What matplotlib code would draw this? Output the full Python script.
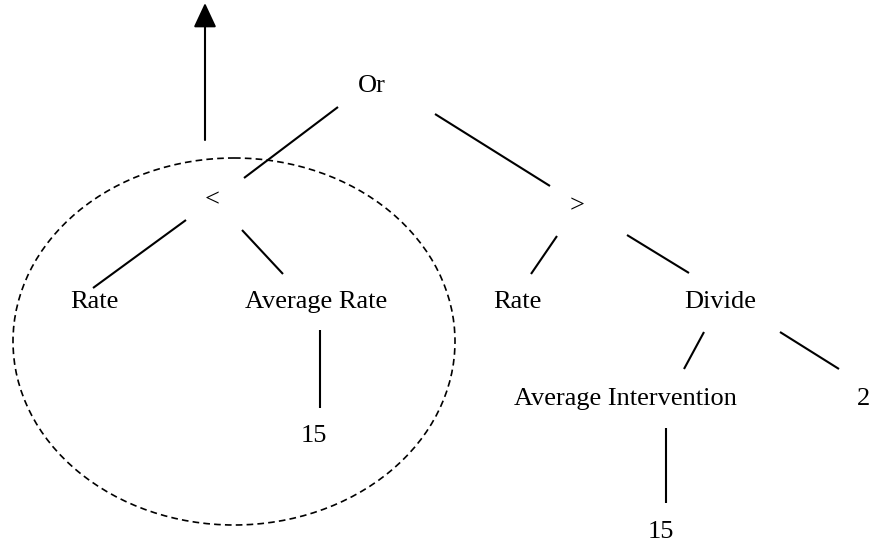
import matplotlib.pyplot as plt
from matplotlib.patches import Ellipse

# node labels and where their baselines sit (pixel coords, y grows downward)
labels = ["Or", "Rate", "Average Rate", "15",
          "Rate", "Divide", "Average Intervention", "2", "15"]
label_x = [372, 94, 316, 314, 517, 720, 625, 864, 661]
label_y = [92, 308, 308, 442, 308, 308, 405, 405, 538]

# operator nodes are centred
ops = ["<", ">"]
op_x = [212, 577]
op_y = [200, 206]

# tree edges as (x0, y0, x1, y1)
edges = [
    (338, 107, 244, 178),   # Or -> <
    (435, 114, 550, 186),   # Or -> >
    (186, 220, 93, 288),    # < -> Rate
    (242, 230, 283, 274),   # < -> Average Rate
    (320, 330, 320, 408),   # Average Rate -> 15
    (557, 236, 531, 274),   # > -> Rate
    (627, 235, 689, 273),   # > -> Divide
    (704, 332, 684, 369),   # Divide -> Average Intervention
    (780, 332, 839, 369),   # Divide -> 2
    (666, 428, 666, 503),   # Average Intervention -> 15
]

W, H = 873, 548
fig = plt.figure(figsize=(W / 100, H / 100), dpi=100)
ax = fig.add_axes([0, 0, 1, 1])
ax.set_xlim(0, W)
ax.set_ylim(H, 0)
ax.axis('off')

for x0, y0, x1, y1 in edges:
    ax.plot([x0, x1], [y0, y1], color='black', lw=1.5, solid_capstyle='butt')

for lab, x, y in zip(labels, label_x, label_y):
    ax.text(x, y, lab, ha='center', va='baseline', fontsize=19,
            family='Liberation Serif', color='black')
for lab, x, y in zip(ops, op_x, op_y):
    ax.text(x, y, lab, ha='center', va='center', fontsize=19,
            family='Liberation Serif', color='black')

# dashed ellipse round the "<" subtree
ax.add_patch(Ellipse((234, 341.5), 442, 367, fill=False, ls=(0, (4, 2.5)),
                     lw=1.2, color='black'))

# arrow going up out of the subtree
ax.annotate('', xy=(205, 3), xytext=(205, 140),
            arrowprops=dict(arrowstyle='-|>,head_length=1.5,head_width=0.7',
                            color='black', lw=1.5, shrinkA=0, shrinkB=0))

plt.savefig('out.png', dpi=100)
